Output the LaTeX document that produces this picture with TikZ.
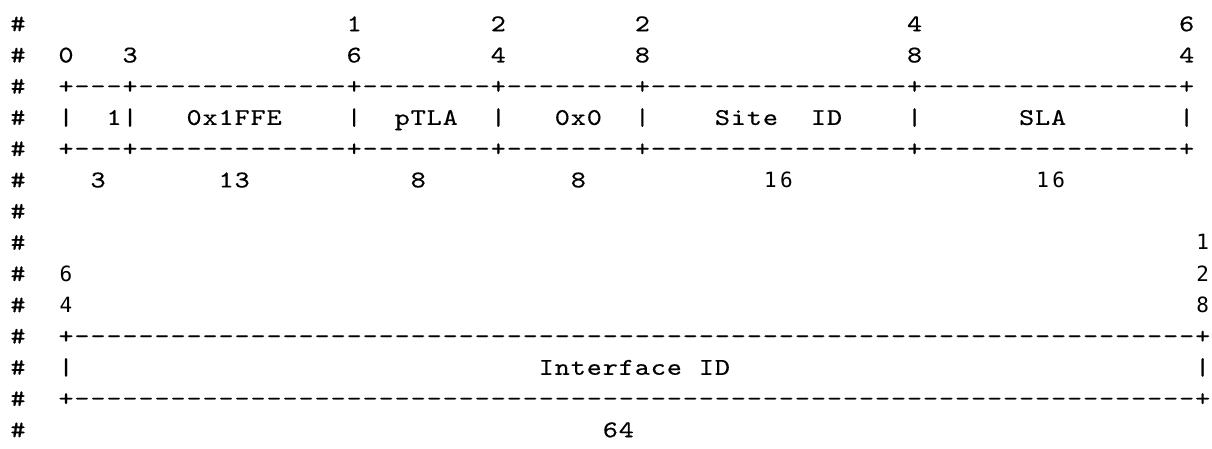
\documentclass[tikz,border=0pt]{standalone}
\usepackage{fontspec}
\newfontfamily\dvmono{DejaVu Sans Mono}
\newfontfamily\courlike{lmmono10-regular.otf}[FakeStretch=1.2,FakeBold=0.4]

% one character per fixed-width cell
\newlength\colw
\setlength\colw{16.01pt}
\makeatletter
\newcommand\spaced[1]{\@tfor\cellch:=#1\do{\makebox[\colw]{\cellch}}}
\makeatother
\newcommand\dashes[1]{\foreach \i in {1,...,#1}{\makebox[\colw]{-}}}

\begin{document}
\begin{tikzpicture}[
  x=\colw, y=-31.23pt,
  txt/.style={anchor=base west, inner sep=0pt, outer sep=0pt,
              font=\courlike\fontsize{24}{24}\selectfont},
  sdig/.style={txt, font=\dvmono\fontsize{21}{21}\selectfont}
]
\useasboundingbox (-0.625,0) rectangle (75.08,14.377);

% comment marks
\foreach \r in {1,...,14} \node[txt] (hash\r) at (0,\r) {\spaced{\#}};

% bit offsets of the first 64 bits
\foreach \c/\d in {21/1,30/2,39/2,56/4,73/6}
  \node[txt] (hi\c) at (\c,1) {\spaced{\d}};
\foreach \c/\d in {3/0,7/3,21/6,30/4,39/8,56/8,73/4}
  \node[txt] (lo\c) at (\c,2) {\spaced{\d}};

\node[txt] (toprule) at (3,3) {\spaced{+}\dashes{3}\spaced{+}\dashes{13}\spaced{+}\dashes{8}\spaced{+}\dashes{8}\spaced{+}\dashes{16}\spaced{+}\dashes{16}\spaced{+}};

\node[txt] (bar0)   at (3,4)  {\spaced{|}};
\node[txt] (fp)     at (6,4)  {\spaced{1|}};
\node[txt] (tla)    at (11,4) {\spaced{0x1FFE}};
\node[txt] (bar16)  at (21,4) {\spaced{|}};
\node[txt] (ptla)   at (24,4) {\spaced{pTLA}};
\node[txt] (bar24)  at (30,4) {\spaced{|}};
\node[txt] (res)    at (34,4) {\spaced{0x0}};
\node[txt] (bar28)  at (39,4) {\spaced{|}};
\node[txt] (site)   at (44,4) {\spaced{Site}};
\node[txt] (siteid) at (50,4) {\spaced{ID}};
\node[txt] (bar48)  at (56,4) {\spaced{|}};
\node[txt] (sla)    at (63,4) {\spaced{SLA}};
\node[txt] (bar64)  at (73,4) {\spaced{|}};

\node[txt] (midrule) at (3,5) {\spaced{+}\dashes{3}\spaced{+}\dashes{13}\spaced{+}\dashes{8}\spaced{+}\dashes{8}\spaced{+}\dashes{16}\spaced{+}\dashes{16}\spaced{+}};

% field widths
\node[txt]  (w3)   at (5,6)  {\spaced{3}};
\node[txt]  (w13)  at (13,6) {\spaced{13}};
\node[txt]  (w8a)  at (25,6) {\spaced{8}};
\node[txt]  (w8b)  at (35,6) {\spaced{8}};
\node[sdig] (w16a) at (47,6) {\spaced{16}};
\node[sdig] (w16b) at (64,6) {\spaced{16}};

% second 64 bits
\node[sdig] (b128a) at (74,8)  {\spaced{1}};
\node[sdig] (b64a)  at (3,9)   {\spaced{6}};
\node[sdig] (b128b) at (74,9)  {\spaced{2}};
\node[sdig] (b64b)  at (3,10)  {\spaced{4}};
\node[sdig] (b128c) at (74,10) {\spaced{8}};

\node[txt] (iftop) at (3,11) {\spaced{+}\dashes{70}\spaced{+}};
\node[txt] (ifbarl) at (3,12)  {\spaced{|}};
\node[txt] (ifid)   at (33,12) {\spaced{Interface~ID}};
\node[txt] (ifbarr) at (74,12) {\spaced{|}};
\node[txt] (ifbot) at (3,13) {\spaced{+}\dashes{70}\spaced{+}};
\node[txt] (w64) at (37,14) {\spaced{64}};
\end{tikzpicture}
\end{document}
